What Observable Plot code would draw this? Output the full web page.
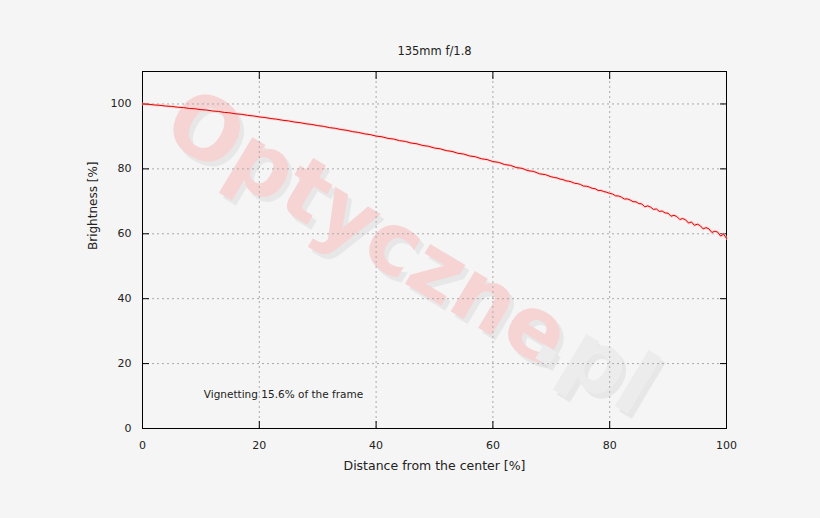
<!DOCTYPE html>
<html>
<head>
<meta charset="utf-8">
<script src="https://cdn.jsdelivr.net/npm/d3@7"></script>
<script src="https://cdn.jsdelivr.net/npm/@observablehq/plot@0.6"></script>
<style>
  html, body { margin: 0; padding: 0; background: #f5f5f5; }
  #chart { width: 820px; height: 518px; }
</style>
</head>
<body>
<div id="chart"></div>
<script>
// ---- data ----
const title = "135mm f/1.8";
const xLabel = "Distance from the center [%]";
const yLabel = "Brightness [%]";
const note = "Vignetting 15.6% of the frame";
const xTicks = [0, 20, 40, 60, 80, 100];
const yTicks = [0, 20, 40, 60, 80, 100];

// distance 0..70 step 1
const brightnessInner = [
  100.00, 99.90, 99.70, 99.58, 99.35, 99.24, 99.00, 98.88, 98.62, 98.51,
  98.25, 98.12, 97.83, 97.69, 97.40, 97.25, 96.95, 96.80, 96.49, 96.31,
  96.00, 95.82, 95.49, 95.30, 94.97, 94.78, 94.43, 94.23, 93.88, 93.68,
  93.33, 93.10, 92.71, 92.49, 92.11, 91.87, 91.46, 91.22, 90.80, 90.55,
  90.10, 89.88, 89.40, 89.18, 88.70, 88.46, 87.95, 87.71, 87.20, 86.95,
  86.41, 86.17, 85.62, 85.38, 84.80, 84.57, 83.98, 83.73, 83.12, 82.87,
  82.25, 81.99, 81.33, 81.08, 80.41, 80.16, 79.45, 79.20, 78.47, 78.22,
  77.55
];
// distance 70.5..100 step 0.5
const brightnessOuter = [
  77.35, 77.20, 76.85, 76.70, 76.30, 76.20, 75.95, 75.55, 75.45, 75.20,
  74.70, 74.65, 74.40, 74.00, 73.90, 73.35, 73.35, 73.00, 72.80, 72.45,
  72.25, 71.70, 71.65, 71.30, 70.70, 70.75, 70.40, 69.90, 69.85, 69.30,
  69.20, 68.30, 68.60, 68.20, 67.50, 67.65, 66.90, 67.00, 66.40, 66.35,
  65.40, 65.70, 65.30, 64.40, 64.70, 64.30, 63.30, 63.65, 62.60, 62.95,
  62.50, 61.50, 61.90, 61.50, 60.40, 60.80, 60.50, 59.30, 59.90, 58.60
];

const curve = [
  ...brightnessInner.map((b, i) => ({d: i, b})),
  ...brightnessOuter.map((b, i) => ({d: 70.5 + i * 0.5, b}))
];

const font = "DejaVu Sans, sans-serif";
const ink = "#222";

const plot = Plot.plot({
  width: 820,
  height: 518,
  marginLeft: 142,
  marginRight: 94,
  marginTop: 71,
  marginBottom: 90,
  style: {background: "#f5f5f5", fontFamily: font, fontSize: "11px", color: ink},
  x: {domain: [0, 100]},
  y: {domain: [0, 110]},
  marks: [
    // watermark
    Plot.text(["Optyczne"], {x: [38.5], y: [61.5], text: d => d, rotate: 31, fontSize: 86, fontWeight: "bold",
      fill: "#d8d8d8", fillOpacity: 0.45, fontFamily: font, dx: 4, dy: 5}),
    Plot.text(["Optyczne"], {x: [38.5], y: [61.5], text: d => d, rotate: 31, fontSize: 86, fontWeight: "bold",
      fill: "#f6d4d4", fontFamily: font}),
    Plot.text([".pl"], {x: [77.5], y: [20.5], text: d => d, rotate: 31, fontSize: 86, fontWeight: "bold",
      fill: "#d8d8d8", fillOpacity: 0.45, fontFamily: font, dx: 4, dy: 5}),
    Plot.text([".pl"], {x: [77.5], y: [20.5], text: d => d, rotate: 31, fontSize: 86, fontWeight: "bold",
      fill: "#ececec", fontFamily: font}),
    // grid
    Plot.gridX({ticks: xTicks, stroke: "#aaa", strokeOpacity: 1, strokeDasharray: "2,3"}),
    Plot.gridY({ticks: yTicks, stroke: "#aaa", strokeOpacity: 1, strokeDasharray: "2,3"}),
    // inner ticks
    Plot.axisY({ticks: yTicks, anchor: "left", tickSize: 7, dx: 7, text: null, label: null, stroke: "#000"}),
    Plot.axisY({ticks: yTicks, anchor: "right", tickSize: 7, dx: -7, text: null, label: null, stroke: "#000"}),
    Plot.axisX({ticks: xTicks, anchor: "bottom", tickSize: 7, dy: -7, text: null, label: null, stroke: "#000"}),
    Plot.axisX({ticks: xTicks, anchor: "top", tickSize: 7, dy: 7, text: null, label: null, stroke: "#000"}),
    // tick labels
    Plot.axisY({ticks: yTicks, anchor: "left", tickSize: 0, tickPadding: 11, label: null, fill: ink, fontSize: 11}),
    Plot.axisX({ticks: xTicks, anchor: "bottom", tickSize: 0, tickPadding: 13, label: null, fill: ink, fontSize: 11}),
    // frame
    Plot.frame({stroke: "#000", strokeWidth: 1}),
    // curve
    Plot.line(curve, {x: "d", y: "b", stroke: "#ffc4c4", strokeWidth: 3, strokeOpacity: 0.6}),
    Plot.line(curve, {x: "d", y: "b", stroke: "#e00000", strokeWidth: 1}),
    // annotation
    Plot.text([note], {x: [10.5], y: [10.5], text: d => d, textAnchor: "start", fill: ink, fontSize: 10.5}),
    // titles
    Plot.text([title], {frameAnchor: "top", dy: -25, text: d => d, fill: ink, fontSize: 11.5}),
    Plot.text([xLabel], {frameAnchor: "bottom", dy: 41, text: d => d, fill: ink, fontSize: 12.5}),
    Plot.text([yLabel], {frameAnchor: "left", dx: -49, rotate: -90, text: d => d, fill: ink, fontSize: 12})
  ]
});
document.getElementById("chart").appendChild(plot);
</script>
</body>
</html>
